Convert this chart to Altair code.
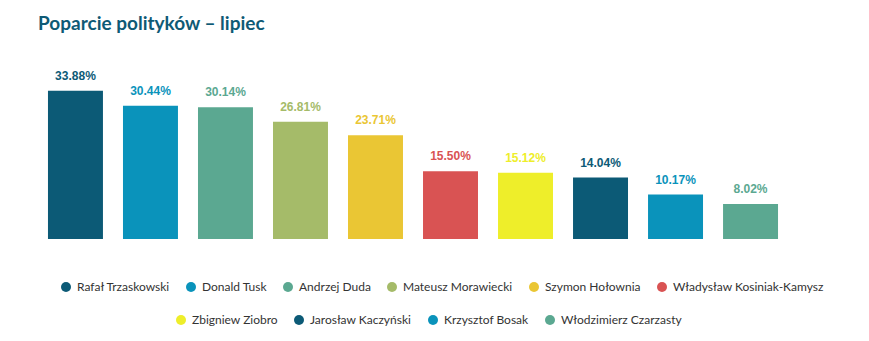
import altair as alt
import pandas as pd

names = ["Rafał Trzaskowski", "Donald Tusk", "Andrzej Duda", "Mateusz Morawiecki",
         "Szymon Hołownia", "Władysław Kosiniak-Kamysz", "Zbigniew Ziobro",
         "Jarosław Kaczyński", "Krzysztof Bosak", "Włodzimierz Czarzasty"]
values = [33.88, 30.44, 30.14, 26.81, 23.71, 15.50, 15.12, 14.04, 10.17, 8.02]
colors = ["#0c5a76", "#0a93bb", "#5ba891", "#a5bb69", "#eac634", "#d95353",
          "#eeee2a", "#0c5a76", "#0a93bb", "#5ba891"]
labels = [f"{v:.2f}%" for v in values]

df = pd.DataFrame({"name": names, "value": values, "label": labels})
row1 = df.iloc[:6]
row2 = df.iloc[6:]

x = alt.X("name:N", sort=names,
          scale=alt.Scale(domain=names, paddingInner=0.267, paddingOuter=0.133),
          axis=None)
y = alt.Y("value:Q", scale=alt.Scale(domain=[0, 40]), axis=None)


def legend(xpos, ypos):
    return alt.Legend(title=None, orient="none", legendX=xpos, legendY=ypos,
                      direction="horizontal", symbolType="circle", symbolSize=100,
                      symbolOpacity=1, symbolStrokeWidth=0,
                      labelFont="Lato", labelFontSize=12, labelColor="#333333",
                      labelOffset=5, columnPadding=15, labelLimit=300)


fill1 = alt.Fill("name:N", scale=alt.Scale(domain=names[:6], range=colors[:6]),
                 legend=legend(22, 217))
col2 = alt.Color("name:N", scale=alt.Scale(domain=names[6:], range=colors[6:]),
                 legend=legend(137, 250))

text_props = dict(font="Liberation Sans", fontSize=12, fontWeight="bold",
                  baseline="alphabetic", dy=-11)

bars1 = alt.Chart(row1).mark_bar().encode(x=x, y=y, fill=fill1)
text1 = alt.Chart(row1).mark_text(**text_props).encode(x=x, y=y, text="label:N", fill=fill1)
bars2 = alt.Chart(row2).mark_bar().encode(x=x, y=y, color=col2)
text2 = alt.Chart(row2).mark_text(**text_props).encode(x=x, y=y, text="label:N", color=col2)

chart = alt.layer(bars1, text1, bars2, text2).properties(
    width=750, height=175,
    title=alt.Title("Poparcie polityków – lipiec", anchor="start", font="Lato",
                    fontSize=19, fontWeight="bold", color="#0e5a75",
                    baseline="alphabetic", offset=15),
    autosize=alt.AutoSizeParams(type="none"),
    padding={"left": 38, "top": 64, "right": 81, "bottom": 102},
).configure(background="white", view=alt.ViewConfig(stroke=None))

chart.save("out.html", embed_options={"renderer": "svg", "actions": False})
